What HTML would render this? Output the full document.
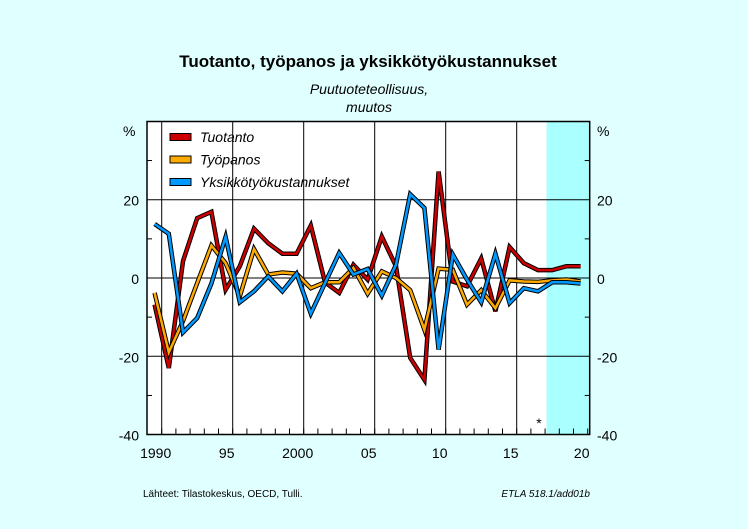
<!DOCTYPE html>
<html><head><meta charset="utf-8"><style>
body{margin:0;background:#e0ffff;}
svg{display:block;font-family:"Liberation Sans",sans-serif;}
</style></head><body>
<svg width="748" height="529" viewBox="0 0 748 529">
<rect x="0" y="0" width="748" height="529" fill="#e0ffff"/>
<text x="368" y="67" text-anchor="middle" font-size="17" font-weight="bold">Tuotanto, työpanos ja yksikkötyökustannukset</text>
<text x="369" y="94" text-anchor="middle" font-size="14" font-style="italic">Puutuoteteollisuus,</text>
<text x="369" y="112" text-anchor="middle" font-size="14" font-style="italic">muutos</text>
<g id="plot"></g>
<text x="143" y="497" font-size="10">Lähteet:   Tilastokeskus, OECD, Tulli.</text>
<text x="590" y="497" font-size="10" font-style="italic" text-anchor="end">ETLA 518.1/add01b</text>
</svg>
<script>
const years=[1990,1991,1992,1993,1994,1995,1996,1997,1998,1999,2000,2001,2002,2003,2004,2005,2006,2007,2008,2009,2010,2011,2012,2013,2014,2015,2016,2017,2018,2019,2020];
const tuotanto=[-6.8,-23,4.3,15.3,16.9,-3,3,12.6,8.9,6.2,6.2,13.4,-1.1,-3.8,3.4,-0.4,10.6,3,-20.4,-26,27.2,-0.9,-2.1,5,-8.5,7.9,3.8,2,2,3,3];
const tyopanos=[-3.8,-19,-11,-1.3,8.3,3.8,-4.7,7.4,0.9,1.4,1.1,-2.6,-1.1,-1.1,2.6,-4,1.7,0,-3.1,-13.2,2.4,2.1,-6.8,-3.1,-7.7,-0.6,-0.9,-1,-0.6,-0.4,-0.9];
const yksikko=[13.8,11.3,-13.9,-10.2,-1.4,10.5,-6.2,-3.4,0.4,-3.4,1.1,-9.1,-1.3,6.4,0.9,2.3,-4.5,3.4,21.4,17.9,-18.3,6,-0.4,-6.2,6.2,-6.4,-2.6,-3.4,-1.1,-1.1,-1.4];
const yTicks=[-40,-20,0,20];
const xTickLabels=["1990","95","2000","05","10","15","20"];
const xTickYears=[1990,1995,2000,2005,2010,2015,2020];
const forecastStart=2017.1;

const L=147,R=589.7,T=121.5,B=434.5;
const x=v=>161.7+(v-1990)*14.2;
const y=v=>278-v*3.915;
const NS="http://www.w3.org/2000/svg";
const g=document.getElementById('plot');
function mk(tag,attrs,parent){const e=document.createElementNS(NS,tag);for(const k in attrs)e.setAttribute(k,attrs[k]);(parent||g).appendChild(e);return e;}

let e=mk('rect',{x:L,y:T,width:R-L,height:B-T,fill:'#fff'});


e=mk('rect',{x:x(forecastStart),y:T,width:R-x(forecastStart),height:B-T,fill:'#aaffff'});



for(const v of [20,0,-20]){
  e=mk('line',{x1:L,x2:R,y1:y(v),y2:y(v),stroke:'#000','stroke-width':1});
  
  
}
for(const v of [1990,1995,2000,2005,2010,2015]){
  e=mk('line',{x1:x(v),x2:x(v),y1:T,y2:B,stroke:'#000','stroke-width':1});
  
  
}
for(const v of [30,10,-10,-30]){
  mk('line',{x1:L,x2:L+5,y1:y(v),y2:y(v),stroke:'#000'});
  mk('line',{x1:R-5,x2:R,y1:y(v),y2:y(v),stroke:'#000'});
}
for(let yr=1990;yr<=2020;yr++){
  mk('line',{x1:x(yr),x2:x(yr),y1:B-6,y2:B,stroke:'#000'});
}
e=mk('rect',{x:L,y:T,width:R-L,height:B-T,fill:'none',stroke:'#000','stroke-width':1.5});



for(const v of yTicks){
  e=mk('text',{x:139,y:y(v)+6,'text-anchor':'end','font-size':14});
  e.textContent=String(v);
  
  
  e=mk('text',{x:597,y:y(v)+6,'font-size':14});
  e.textContent=String(v);
  
  
}
e=mk('text',{x:123,y:136,'font-size':14});e.textContent='%';


e=mk('text',{x:597,y:136,'font-size':14});e.textContent='%';


xTickYears.forEach((yr,i)=>{
  e=mk('text',{x:x(yr)-6,y:458,'text-anchor':'middle','font-size':14});
  e.textContent=xTickLabels[i];
  
  
});
e=mk('text',{x:539,y:428,'text-anchor':'middle','font-size':14});e.textContent='*';



const series=[[tuotanto,'#cc0000','Tuotanto'],[tyopanos,'#ffaa00','Työpanos'],[yksikko,'#0099ff','Yksikkötyökustannukset']];
function pts(arr){return arr.map((v,i)=>x(years[i]-0.5)+','+y(v)).join(' ');}
for(const k of [0,1,2]){
  const [arr,col,name]=series[k];
  const gg=mk('g',{});
  
  
  mk('polyline',{points:pts(arr),fill:'none',stroke:'#000','stroke-width':4.5},gg);
  mk('polyline',{points:pts(arr),fill:'none',stroke:col,'stroke-width':2.5},gg);
}
series.forEach(([arr,col,name],i)=>{
  const ly=137+i*22.5;
  const lg=mk('g',{});
  
  
  mk('rect',{x:170,y:ly-3.5,width:21,height:7,fill:col,stroke:'#000','stroke-width':1},lg);
  const t=mk('text',{x:200,y:ly+5,'font-size':14,'font-style':'italic'},lg);
  t.textContent=name;
});
</script>
</body></html>
